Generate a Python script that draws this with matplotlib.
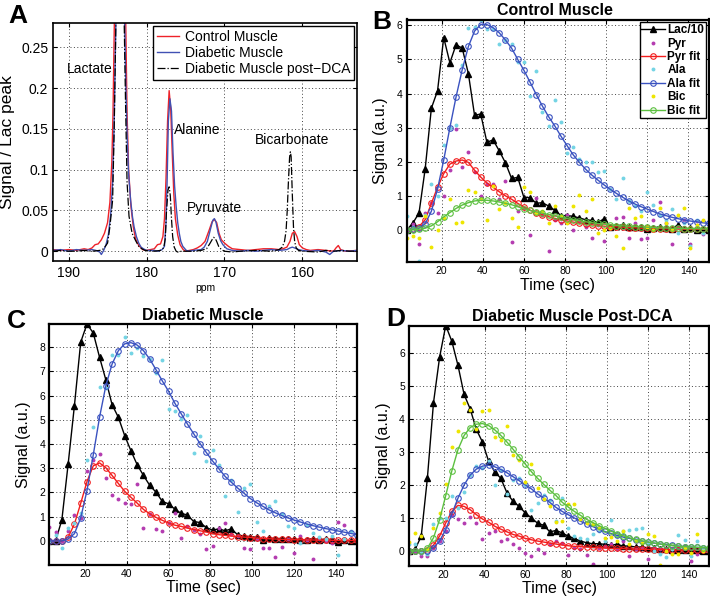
import matplotlib
matplotlib.use("Agg")
import matplotlib.pyplot as plt

plt.rcParams["font.family"] = ["Liberation Sans", "DejaVu Sans"]

#
# data: panel A spectra (ppm, signal normalised to the lactate peak)
#

ctrl_ppm = [192, 191, 190, 189, 188, 187.5, 187, 186.6, 186.2, 185.8, 185.4, 185.0, 184.7, 184.45,
            184.3, 184.1, 183.8, 183.4, 183.0, 182.7, 182.5, 182.3, 182.0, 181.7, 181.4, 181.0,
            180.5, 180, 179.5, 179.0, 178.6, 178.2, 177.9, 177.7, 177.5, 177.3, 177.1, 176.9,
            176.7, 176.5, 176.3, 176.0, 175.7, 175.3, 175, 174.5, 174, 173.5, 173.0, 172.5, 172.0,
            171.6, 171.3, 171.0, 170.7, 170.4, 170.0, 169.5, 169, 168, 167, 166, 165, 164, 163,
            162.5, 162, 161.6, 161.3, 161.0, 160.7, 160.4, 160.0, 159.5, 159, 158, 157, 156,
            155.7, 155.4, 155.1, 154.5, 153]
ctrl_sig = [0.002, 0.001, 0.002, 0.001, 0.003, 0.002, 0.004, 0.008, 0.009, 0.014, 0.022, 0.035, 0.06, 0.11,
            0.17, 0.3, 0.6, 1.0, 0.6, 0.3, 0.17, 0.1, 0.055, 0.03, 0.015, 0.007,
            0.002, 0.001, 0.002, 0.003, 0.008, 0.009, 0.018, 0.04, 0.09, 0.16, 0.197, 0.175,
            0.12, 0.07, 0.04, 0.02, 0.008, 0.002, 0.0, 0.001, 0.002, 0.004, 0.007, 0.012, 0.025,
            0.036, 0.039, 0.035, 0.022, 0.014, 0.01, 0.006, 0.003, 0.002, 0.001, 0.002, 0.003, 0.003, 0.002,
            0.003, 0.005, 0.012, 0.022, 0.024, 0.018, 0.008, 0.004, 0.002, 0.001, 0.002, 0.001, 0.0,
            0.004, 0.007, 0.002, 0.0, 0.001]

diab_ppm = [192, 191, 190, 189, 188, 187, 186.5, 186.0, 185.8, 185.5, 185.2, 184.9, 184.6, 184.35,
            184.15, 183.9, 183.7, 183.4, 183.1, 182.85, 182.65, 182.5, 182.3, 182.05, 181.8, 181.6,
            181.3, 181.0, 180.7, 180.4, 180, 179, 178.5, 178.0, 177.7, 177.5, 177.35, 177.2, 177.0,
            176.8, 176.6, 176.4, 176.2, 176.0, 175.8, 175.6, 175.35, 174.9, 174.5, 174, 173, 172.6,
            172.2, 171.8, 171.5, 171.3, 171.1, 170.8, 170.5, 170.2, 169.7, 169, 168, 167, 166, 165,
            164, 163, 162, 161.6, 161.3, 161.0, 160.5, 160, 159, 158, 157, 156.5, 156, 155, 154, 153]
diab_sig = [0.001, 0.002, 0.0, 0.002, 0.001, 0.002, 0.001, -0.001, -0.004, 0.001, 0.008, 0.02, 0.045, 0.085,
            0.16, 0.3, 0.6, 1.0, 0.6, 0.3, 0.2, 0.145, 0.095, 0.063, 0.042, 0.03,
            0.018, 0.01, 0.005, 0.003, 0.001, 0.001, 0.0, 0.002, 0.006, 0.035, 0.09, 0.16, 0.187,
            0.172, 0.12, 0.08, 0.055, 0.035, 0.022, 0.012, 0.006, 0.001, 0.0, 0.001, 0.002, 0.005,
            0.012, 0.027, 0.038, 0.04, 0.036, 0.022, 0.013, 0.008, 0.003, 0.001, 0.0, 0.001, 0.0, 0.001,
            0.002, 0.001, 0.002, 0.004, 0.005, 0.004, 0.002, 0.001, 0.0, 0.001, -0.001, -0.004, 0.0, 0.001, 0.0, 0.001]

dca_ppm = [192, 191, 190, 189, 188, 187, 186, 185.5, 185.0, 184.7, 184.35, 184.15, 183.9, 183.65,
           183.4, 183.15, 182.9, 182.7, 182.5, 182.25, 181.85, 181.4, 181.0, 180.6, 180.2, 179,
           178.2, 177.8, 177.6, 177.45, 177.25, 177.1, 176.95, 176.8, 176.65, 176.45, 176.2, 176.0,
           175.5, 174, 173, 172.3, 171.9, 171.6, 171.4, 171.2, 171.0, 170.75, 170.4, 170, 169, 168,
           166, 164, 163.0, 162.6, 162.3, 162.1, 161.95, 161.8, 161.65, 161.55, 161.45, 161.3,
           161.15, 161.0, 160.8, 160.5, 160, 158, 157, 156, 155, 154, 153]
dca_sig = [0.0, 0.001, 0.0, 0.0, 0.001, 0.0, 0.001, 0.003, 0.01, 0.03, 0.063, 0.15, 0.3, 0.6,
           1.0, 0.6, 0.3, 0.185, 0.085, 0.043, 0.022, 0.013, 0.006, 0.003, 0.001, 0.0,
           0.001, 0.004, 0.015, 0.047, 0.075, 0.079, 0.068, 0.04, 0.018, 0.005, 0.0, -0.001,
           0.0, 0.0, 0.001, 0.003, 0.009, 0.014, 0.017, 0.016, 0.012, 0.006, 0.002, 0.0, -0.001, 0.0,
           0.001, 0.0, 0.002, 0.005, 0.012, 0.025, 0.05, 0.085, 0.115, 0.122, 0.116, 0.07,
           0.03, 0.012, 0.004, 0.001, 0.0, -0.001, 0.001, 0.0, 0.001, 0.0, 0.0]

peak_names = ["Lactate", "Alanine", "Pyruvate", "Bicarbonate"]
peak_label_ppm = [187.3, 173.5, 171.3, 161.3]
peak_label_sig = [0.224, 0.149, 0.053, 0.136]

#
# data: panels B-D time courses (one sample every 3 s)
#

time_sec = list(range(3, 151, 3))

# B: control muscle
b_lac = [0, 0.2, 0.5, 1.8, 3.57, 4.08, 5.64, 4.9, 5.43, 5.33,
         4.58, 3.36, 3.4, 2.57, 2.64, 2.32, 1.97, 1.51, 1.54, 0.95,
         0.95, 0.78, 0.8, 0.7, 0.58, 0.42, 0.42, 0.4, 0.35, 0.3,
         0.28, 0.22, 0.33, 0.1, 0.12, 0.15, 0.1, 0.08, 0.1, 0.02,
         0.05, 0.1, 0.05, 0.04, 0.15, 0.02, 0.05, 0.0, 0.02, 0.0]
b_pyr = [0.0, 0.17, -0.4, 0.5, 0.8, 0.5, 1.0, 1.76, 2.96, 1.86,
         2.29, 1.7, 1.0, 1.36, 1.34, 0.9, 1.44, -0.35, 0.55, 0.64,
         -0.16, 0.95, 0.45, -0.63, 0.3, 0.2, 0.45, 0.0, 0.25, 0.1,
         -0.24, 0.15, -0.32, 0.05, 0.36, 0.39, -0.25, 0.2, -0.28, -0.25,
         0.3, 0.82, 0.2, -0.4, 0.1, 0.3, -0.42, 0.25, -0.13, 0.05]
b_pyr_fit = [0, 0.03, 0.1, 0.3, 0.78, 1.25, 1.65, 1.93, 2.02, 2.05,
             1.98, 1.75, 1.55, 1.38, 1.25, 1.12, 1.0, 0.9, 0.78, 0.67,
             0.58, 0.5, 0.44, 0.39, 0.34, 0.3, 0.26, 0.23, 0.2, 0.17,
             0.15, 0.13, 0.11, 0.1, 0.09, 0.08, 0.07, 0.06, 0.05, 0.05,
             0.04, 0.04, 0.03, 0.03, 0.03, 0.02, 0.02, 0.02, 0.02, 0.02]
b_ala = [0.4, 0.1, -0.9, 0.45, 1.36, 1.0, 2.48, 3.0, 3.08, 4.84,
         5.93, 5.95, 6.16, 5.88, 5.9, 5.45, 5.56, 5.46, 4.92, 4.92,
         3.92, 4.65, 3.47, 3.06, 3.8, 3.16, 2.27, 2.42, 2.08, 1.98,
         1.98, 1.69, 1.74, 1.2, 0.92, 1.51, 0.85, 0.7, 0.55, 1.1,
         0.74, 0.45, 0.3, 0.6, -0.1, 0.2, -0.46, 0.3, -0.1, 0.15]
b_ala_fit = [0, 0.02, 0.05, 0.18, 0.55, 1.2, 2.05, 3.0, 3.9, 4.7,
             5.38, 5.83, 6.02, 6.02, 5.93, 5.78, 5.57, 5.33, 5.0, 4.68,
             4.33, 3.97, 3.63, 3.32, 3.05, 2.75, 2.47, 2.2, 1.98, 1.78,
             1.61, 1.46, 1.32, 1.19, 1.07, 0.96, 0.85, 0.76, 0.68, 0.61,
             0.54, 0.47, 0.42, 0.37, 0.33, 0.29, 0.26, 0.24, 0.21, 0.19]
b_bic = [-0.25, -0.18, -0.23, 0.41, -0.49, 0.0, 0.35, 0.92, 0.2, 0.24,
         1.18, 1.1, 0.9, 0.29, 1.29, 0.6, 0.8, 0.36, 0.1, 1.26,
         1.1, 0.5, 0.55, 0.2, 0.7, 0.4, 0.2, 0.69, 1.02, 0.56,
         0.9, -0.1, 0.0, 0.05, -0.18, -0.54, 0.65, 0.35, 0.4, 0.1,
         0.0, 0.63, 0.2, 0.0, 0.45, 0.63, -0.52, 0.15, 0.3, 0.05]
b_bic_fit = [0, 0.0, 0.02, 0.05, 0.12, 0.24, 0.38, 0.51, 0.63, 0.73,
             0.8, 0.85, 0.87, 0.87, 0.85, 0.82, 0.78, 0.74, 0.68, 0.62,
             0.57, 0.53, 0.49, 0.45, 0.41, 0.37, 0.33, 0.3, 0.27, 0.24,
             0.21, 0.19, 0.17, 0.15, 0.13, 0.12, 0.11, 0.1, 0.09, 0.08,
             0.07, 0.06, 0.06, 0.05, 0.05, 0.04, 0.04, 0.04, 0.03, 0.03]

# C: diabetic muscle (no bicarbonate)
c_lac = [0, 0, 0.87, 3.17, 5.58, 8.2, 8.95, 8.58, 7.58, 6.65,
         5.62, 5.1, 4.35, 3.72, 3.14, 2.7, 2.29, 2.01, 1.63, 1.53,
         1.31, 1.14, 1.07, 0.8, 0.76, 0.55, 0.45, 0.5, 0.42, 0.5,
         0.25, 0.2, 0.18, 0.15, 0.05, 0.12, 0.1, 0.1, 0.08, 0.08,
         0.05, 0.05, 0.1, 0.05, 0.08, 0.05, -0.05, 0.02, 0.0, 0.0]
c_pyr = [0.56, 0.37, 0.0, 0.41, 1.07, 0.95, 2.89, 3.35, 3.58, 2.59,
         1.9, 1.72, 1.56, 1.52, 2.36, 0.55, 1.1, 0.5, 0.39, 0.75,
         1.17, 0.14, 0.63, 0.45, 0.3, -0.33, -0.2, 0.55, 0.76, 0.3,
         0.2, -0.3, -0.33, 0.1, -0.3, -0.3, -0.66, -0.23, 0.1, -0.48,
         0.2, 0.05, -0.76, 0.1, 0.0, -0.1, 0.77, 0.66, -1.0, 0.0]
c_pyr_fit = [0, 0, 0.0, 0.15, 0.7, 1.55, 2.45, 3.1, 3.22, 3.02,
             2.7, 2.37, 2.05, 1.8, 1.56, 1.3, 1.12, 0.97, 0.85, 0.74,
             0.65, 0.6, 0.53, 0.47, 0.42, 0.37, 0.3, 0.26, 0.23, 0.2,
             0.18, 0.16, 0.14, 0.12, 0.1, 0.09, 0.08, 0.07, 0.06, 0.05,
             0.05, 0.04, 0.04, 0.03, 0.03, 0.03, 0.02, 0.02, 0.02, 0.02]
c_ala = [0.0, 0.25, -0.28, 0.52, 0.75, 1.17, 3.35, 4.7, 6.34, 6.3,
         7.66, 7.66, 8.42, 7.75, 7.96, 7.62, 7.5, 6.93, 7.48, 5.45,
         5.35, 5.02, 5.2, 3.62, 4.31, 3.31, 3.76, 3.14, 1.86, 2.52,
         1.18, 2.19, 2.36, 0.8, 0.39, 1.46, 1.65, 1.1, 0.63, 0.55,
         -0.1, 0.66, 0.32, 0.15, 0.08, 0.2, -0.58, 0.1, 0.39, -0.3]
c_ala_fit = [0, 0.0, 0.0, 0.08, 0.3, 0.95, 2.08, 3.55, 5.1, 6.4,
             7.3, 7.85, 8.13, 8.18, 8.08, 7.85, 7.5, 7.06, 6.6, 6.17,
             5.68, 5.25, 4.82, 4.42, 4.02, 3.65, 3.3, 2.98, 2.66, 2.42,
             2.18, 1.97, 1.75, 1.58, 1.43, 1.28, 1.16, 1.05, 0.95, 0.86,
             0.78, 0.7, 0.63, 0.57, 0.51, 0.46, 0.41, 0.36, 0.31, 0.26]

# D: diabetic muscle post-DCA
d_lac = [0, 0.05, 0.45, 2.2, 4.49, 5.87, 6.83, 6.35, 5.62, 4.74,
         4.3, 3.68, 3.3, 2.72, 2.4, 2.2, 1.76, 1.5, 1.35, 1.15,
         1.0, 0.84, 0.78, 0.58, 0.62, 0.55, 0.45, 0.38, 0.3, 0.25,
         0.22, 0.22, 0.2, 0.18, 0.2, 0.15, 0.15, 0.12, 0.12, 0.1,
         0.08, 0.05, 0.05, 0.03, 0.04, 0.03, 0.02, 0.02, 0.0, 0.0]
d_pyr = [-0.05, 0.0, -0.15, -0.15, 0.1, 0.3, 0.6, 1.1, 0.96, 0.85,
         1.04, 0.84, 0.35, 0.53, 0.6, 0.3, 0.35, 0.2, 0.1, -0.05,
         -0.15, 0.05, -0.05, 0.2, 0.3, 0.25, -0.12, 0.1, 0.05, -0.13,
         -0.38, 0.1, 0.15, 0.2, 0.05, 0.3, -0.15, 0.05, 0.1, -0.25,
         0.1, 0.05, 0.0, -0.05, 0.1, 0.15, -0.3, -0.1, 0.0, 0.05]
d_pyr_fit = [0, 0, 0, 0.02, 0.18, 0.45, 0.85, 1.2, 1.38, 1.35,
             1.25, 1.1, 0.97, 0.87, 0.75, 0.66, 0.58, 0.5, 0.45, 0.38,
             0.34, 0.3, 0.27, 0.24, 0.21, 0.18, 0.16, 0.14, 0.13, 0.12,
             0.11, 0.1, 0.09, 0.08, 0.08, 0.07, 0.06, 0.06, 0.05, 0.05,
             0.04, 0.04, 0.04, 0.03, 0.03, 0.03, 0.03, 0.02, 0.02, 0.02]
d_ala = [0.2, 0.2, -0.05, -0.1, 0.81, 1.0, 1.0, 1.66, 1.3, 1.78,
         2.3, 2.57, 2.5, 2.74, 2.0, 2.45, 1.74, 2.14, 2.2, 2.0,
         1.23, 1.46, 1.71, 1.53, 0.9, 1.6, 0.71, 0.45, 0.4, 0.35,
         0.5, 0.6, 0.3, 0.93, 0.45, 0.6, 0.64, 0.66, 0.69, 0.2,
         0.0, -0.1, -0.18, 0.05, 0.48, 0.32, -0.15, 0.3, 0.1, 0.0]
d_ala_fit = [0, 0, 0, 0.0, 0.1, 0.3, 0.65, 1.12, 1.6, 2.0,
             2.3, 2.48, 2.57, 2.6, 2.55, 2.47, 2.37, 2.25, 2.13, 2.0,
             1.88, 1.73, 1.6, 1.47, 1.32, 1.2, 1.1, 1.0, 0.9, 0.82,
             0.74, 0.66, 0.59, 0.53, 0.47, 0.42, 0.38, 0.34, 0.3, 0.27,
             0.24, 0.21, 0.19, 0.17, 0.15, 0.13, 0.12, 0.11, 0.1, 0.09]
d_bic = [0.28, 0.55, 0.45, 0.05, 0.69, 1.16, 2.04, 3.16, 3.63, 4.49,
         4.28, 3.7, 4.23, 4.26, 3.45, 3.36, 3.78, 2.92, 2.77, 2.1,
         2.64, 1.9, 1.56, 1.36, 0.89, 0.9, 1.41, 1.43, 0.96, 0.85,
         0.81, 0.7, 0.38, 0.43, 0.3, 0.6, 0.2, 0.3, 0.25, 0.5,
         0.45, -0.42, 0.0, -0.1, -0.1, 0.1, -0.05, 0.5, 0.0, 0.15]
d_bic_fit = [0, 0, 0.0, 0.08, 0.4, 0.95, 1.68, 2.43, 3.07, 3.5,
             3.74, 3.84, 3.86, 3.8, 3.67, 3.5, 3.3, 3.08, 2.85, 2.63,
             2.4, 2.2, 2.02, 1.84, 1.68, 1.48, 1.33, 1.2, 1.08, 0.96,
             0.86, 0.77, 0.68, 0.6, 0.52, 0.46, 0.4, 0.35, 0.31, 0.27,
             0.24, 0.21, 0.18, 0.16, 0.14, 0.13, 0.12, 0.11, 0.1, 0.09]

#
# colours
#

RED = "#ee2229"
BLUE = "#4151b3"
PYR_DOT = "#b43cb0"
ALA_DOT = "#74d4e4"
BIC_DOT = "#eee600"
PYR_FIT = "#f21d1d"
ALA_FIT = "#3a52c0"
BIC_FIT = "#5cc040"

#
# figure
#

W, H = 710, 596
fig = plt.figure(figsize=(W / 100, H / 100), dpi=100)


def px_axes(left, top, right, bottom):
  # axes placed by pixel edges of the reference image
  return fig.add_axes([left / W, 1 - bottom / H, (right - left) / W, (bottom - top) / H])


def style_axes(ax, lw=1.4):
  for s in ax.spines.values():
    s.set_linewidth(lw)
    s.set_color("black")
  ax.tick_params(direction="in", length=3, width=0.8, top=True, right=True)
  ax.grid(True, linestyle=(0, (1, 2.5)), color="#444444", linewidth=0.7)
  ax.set_axisbelow(True)


def draw_kinetics(ax, lac, pyr, pyr_fit, ala, ala_fit, bic=None, bic_fit=None, ylim=(0, 1)):
  dot = dict(linestyle="none", marker="o", markersize=2.8, markeredgewidth=0)
  fit = dict(linewidth=1.0, marker="o", markersize=4, markerfacecolor="none", markeredgewidth=0.8)
  ax.plot(time_sec, lac, color="black", linewidth=1.0, marker="^", markersize=4, label="Lac/10")
  ax.plot(time_sec, pyr, color=PYR_DOT, label="Pyr", **dot)
  ax.plot(time_sec, pyr_fit, color=PYR_FIT, label="Pyr fit", **fit)
  ax.plot(time_sec, ala, color=ALA_DOT, label="Ala", **dot)
  ax.plot(time_sec, ala_fit, color=ALA_FIT, label="Ala fit", **fit)
  if bic is not None:
    ax.plot(time_sec, bic, color=BIC_DOT, label="Bic", **dot)
    ax.plot(time_sec, bic_fit, color=BIC_FIT, label="Bic fit", **fit)
  ax.set_xlim(3, 150)
  ax.set_ylim(*ylim)
  ax.set_xticks([20, 40, 60, 80, 100, 120, 140])
  ax.set_yticks(range(0, int(ylim[1]) + 1))
  ax.tick_params(labelsize=7.5, pad=3)
  ax.set_xlabel("Time (sec)", fontsize=11.5, labelpad=1)
  ax.set_ylabel("Signal (a.u.)", fontsize=11.5, labelpad=6)
  style_axes(ax, lw=1.6)


# ---- panel A: spectra ----
ax_a = px_axes(53, 23, 357, 261)
ax_a.plot(ctrl_ppm, ctrl_sig, color=RED, linewidth=1.0, label="Control Muscle")
ax_a.plot(diab_ppm, diab_sig, color=BLUE, linewidth=1.0, label="Diabetic Muscle")
ax_a.plot(dca_ppm, dca_sig, color="black", linewidth=0.9, linestyle="-.", label="Diabetic Muscle post\u2212DCA")
for (name, x, y) in zip(peak_names, peak_label_ppm, peak_label_sig):
  ax_a.text(x, y, name, fontsize=10, ha="center", va="center")
ax_a.set_xlim(192, 153)
ax_a.set_ylim(-0.012, 0.28)
ax_a.set_xticks([190, 180, 170, 160])
ax_a.set_yticks([0, 0.05, 0.1, 0.15, 0.2, 0.25])
ax_a.set_yticklabels(["0", "0.05", "0.1", "0.15", "0.2", "0.25"])
ax_a.tick_params(labelsize=10)
ax_a.set_xlabel("ppm", fontsize=7.5, labelpad=2)
ax_a.set_ylabel("Signal / Lac peak", fontsize=12.5, labelpad=4)
style_axes(ax_a, lw=1.2)
leg_a = ax_a.legend(loc="upper right", fontsize=10, frameon=True, fancybox=False,
                    borderaxespad=0.25, handlelength=1.6, labelspacing=0.15,
                    borderpad=0.25, handletextpad=0.4)
leg_a.get_frame().set_edgecolor("black")
leg_a.get_frame().set_linewidth(1.0)
leg_a.get_frame().set_alpha(1)

# ---- panel B: control ----
ax_b = px_axes(406.7, 19.5, 709, 262)
draw_kinetics(ax_b, b_lac, b_pyr, b_pyr_fit, b_ala, b_ala_fit, b_bic, b_bic_fit, ylim=(-0.94, 6.17))
ax_b.set_title("Control Muscle", fontsize=11.5, fontweight="bold", x=0.49, pad=3)
leg_b = ax_b.legend(loc="upper right", prop=dict(size=8.5, weight="bold"), frameon=True, fancybox=False,
                    borderaxespad=0.25, handlelength=2.0, labelspacing=0.12,
                    borderpad=0.15, handletextpad=0.2, numpoints=1)
leg_b.get_frame().set_edgecolor("black")
leg_b.get_frame().set_linewidth(1.0)
leg_b.get_frame().set_alpha(1)

# ---- panel C: diabetic ----
ax_c = px_axes(49.3, 324, 357, 564.7)
draw_kinetics(ax_c, c_lac, c_pyr, c_pyr_fit, c_ala, c_ala_fit, ylim=(-0.98, 8.95))
ax_c.set_title("Diabetic Muscle", fontsize=11.5, fontweight="bold", pad=3)

# ---- panel D: diabetic post-DCA ----
ax_d = px_axes(409, 325.5, 709, 565.5)
draw_kinetics(ax_d, d_lac, d_pyr, d_pyr_fit, d_ala, d_ala_fit, d_bic, d_bic_fit, ylim=(-0.44, 6.83))
ax_d.set_title("Diabetic Muscle Post-DCA", fontsize=11.5, fontweight="bold", x=0.543, pad=3)

# panel letters
for (letter, x, y) in [("A", 8, 4), ("B", 372, 10), ("C", 7, 309), ("D", 386, 307)]:
  fig.text(x / W, 1 - y / H, letter, fontsize=19, fontweight="bold", ha="left", va="top")

plt.savefig("out.png", dpi=100)
